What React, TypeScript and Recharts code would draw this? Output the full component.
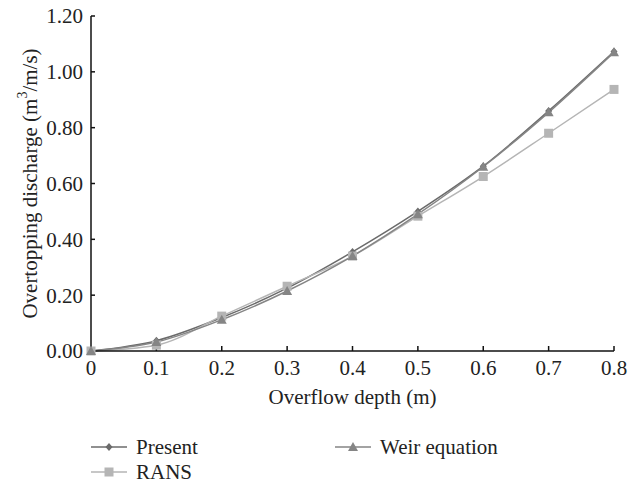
import React from 'react'
import { LineChart, Line, XAxis, YAxis, Label } from 'recharts'

const depths = [0, 0.1, 0.2, 0.3, 0.4, 0.5, 0.6, 0.7, 0.8]
const present = [0, 0.037, 0.12, 0.225, 0.355, 0.5, 0.662, 0.86, 1.073]
const weir = [0, 0.032, 0.112, 0.215, 0.34, 0.49, 0.66, 0.855, 1.07]
const rans = [0, 0.021, 0.125, 0.232, 0.34, 0.483, 0.625, 0.78, 0.937]
const xTicks = [0, 0.1, 0.2, 0.3, 0.4, 0.5, 0.6, 0.7, 0.8]
const yTicks = [0, 0.2, 0.4, 0.6, 0.8, 1.0, 1.2]

const data = depths.map((d, i) => ({ d, present: present[i], weir: weir[i], rans: rans[i] }))

const FONT = '"Liberation Serif", "DejaVu Serif", serif'
const FS = 21
const C_PRESENT = '#6b6b6b'
const C_WEIR = '#858585'
const C_RANS = '#b5b5b5'

const Diamond = ({ cx, cy, fill }: any) =>
  cx == null ? null : <path d={`M${cx},${cy - 4}L${cx + 3.5},${cy}L${cx},${cy + 4}L${cx - 3.5},${cy}Z`} fill={fill} />
const Triangle = ({ cx, cy, fill }: any) =>
  cx == null ? null : <path d={`M${cx},${cy - 5}L${cx + 5},${cy + 4}L${cx - 5},${cy + 4}Z`} fill={fill} />
const Square = ({ cx, cy, fill }: any) =>
  cx == null ? null : <rect x={cx - 4.5} y={cy - 4.5} width={9} height={9} fill={fill} />

const YLabel = ({ viewBox }: any) => {
  const x = 30
  const y = viewBox.y + viewBox.height / 2
  return (
    <text x={x} y={y} transform={`rotate(-90, ${x}, ${y})`} textAnchor="middle" dominantBaseline="central"
      fontFamily={FONT} fontSize={FS} fill="#222">
      Overtopping discharge (m<tspan dy={-8} fontSize={14}>3</tspan><tspan dy={8}>/m/s)</tspan>
    </text>
  )
}

function LegendItem({ label, color, Marker, left, top }: any) {
  return (
    <div style={{ position: 'absolute', left, top, height: 24, display: 'flex', alignItems: 'center' }}>
      <svg width={36} height={14}>
        <line x1={0} y1={7} x2={36} y2={7} stroke={color} strokeWidth={1.5} />
        <Marker cx={18} cy={7} fill={color} />
      </svg>
      <span style={{ marginLeft: 9, fontFamily: FONT, fontSize: FS, lineHeight: '24px', color: '#222' }}>{label}</span>
    </div>
  )
}

export default function App() {
  return (
    <div style={{ position: 'absolute', left: 0, top: 0, width: 637, height: 483, background: '#fff' }}>
      <LineChart width={637} height={415} data={data} margin={{ top: 16, right: 23, bottom: 0, left: 0 }}>
        <XAxis dataKey="d" type="number" domain={[0, 0.8]} ticks={xTicks} height={64}
          tickFormatter={(v: number) => (v === 0 ? '0' : v.toFixed(1))}
          tick={{ fontFamily: FONT, fontSize: FS, fill: '#222' }}
          tickSize={-5} tickMargin={14} stroke="#111" strokeWidth={1.5}>
          <Label value="Overflow depth (m)" position="insideBottom" offset={11}
            style={{ fontFamily: FONT, fontSize: FS, fill: '#222' }} />
        </XAxis>
        <YAxis type="number" domain={[0, 1.2]} ticks={yTicks} width={91}
          tickFormatter={(v: number) => v.toFixed(2)}
          tick={{ fontFamily: FONT, fontSize: FS, fill: '#222' }}
          tickSize={-4} tickMargin={12} stroke="#111" strokeWidth={1.5}>
          <Label content={<YLabel />} />
        </YAxis>
        <Line type="monotone" dataKey="present" stroke={C_PRESENT} strokeWidth={1.5}
          dot={<Diamond fill={C_PRESENT} />} isAnimationActive={false} />
        <Line type="monotone" dataKey="rans" stroke={C_RANS} strokeWidth={1.5}
          dot={<Square fill={C_RANS} />} isAnimationActive={false} />
        <Line type="monotone" dataKey="weir" stroke={C_WEIR} strokeWidth={1.5}
          dot={<Triangle fill={C_WEIR} />} isAnimationActive={false} />
      </LineChart>
      <LegendItem label="Present" color={C_PRESENT} Marker={Diamond} left={91} top={435} />
      <LegendItem label="Weir equation" color={C_WEIR} Marker={Triangle} left={335} top={435} />
      <LegendItem label="RANS" color={C_RANS} Marker={Square} left={91} top={460} />
    </div>
  )
}
